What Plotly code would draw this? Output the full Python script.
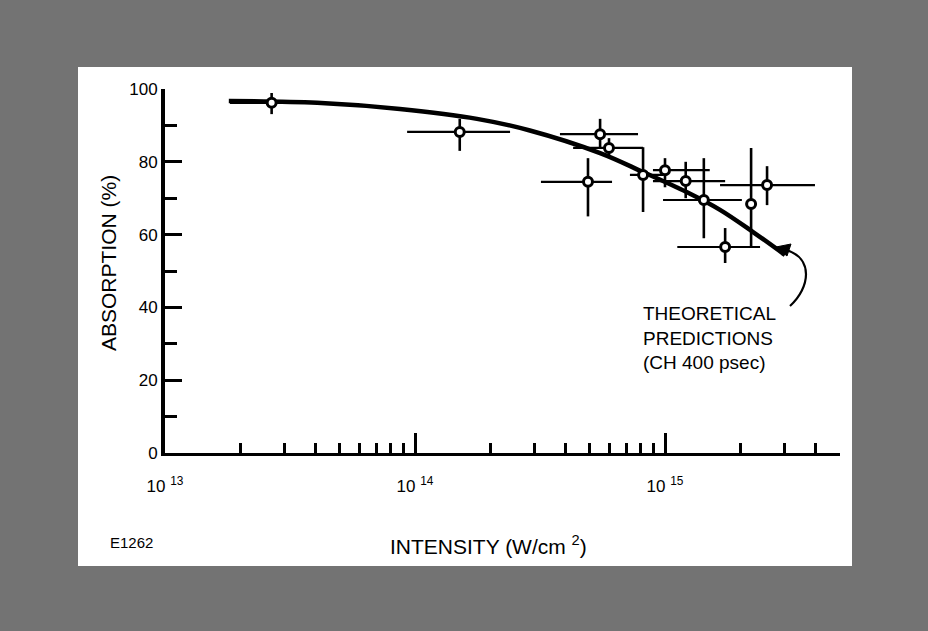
import plotly.graph_objects as go

# ---------------- data ----------------
curve_intensity = [1.80e13, 4.06e13, 8.7e13, 1.77e14, 2.88e14, 5.5e14, 8.17e14, 1.22e15, 1.66e15, 2.25e15, 3.02e15]
curve_absorption = [96.7, 96.2, 94.5, 91.8, 88.6, 82.4, 77.2, 71.7, 66.8, 60.7, 54.4]

intensity = [2.67e13, 1.51e14, 4.92e14, 5.50e14, 5.97e14, 8.17e14, 1.00e15, 1.21e15, 1.43e15, 1.74e15, 2.21e15, 2.56e15]
absorption = [96.2, 88.2, 74.5, 87.6, 83.8, 76.4, 77.7, 74.7, 69.5, 56.6, 68.4, 73.6]
abs_low = [93.1, 83.0, 65.0, 84.0, 81.5, 66.2, 73.0, 70.0, 59.0, 52.2, 56.6, 68.1]
abs_high = [98.9, 91.8, 81.0, 91.8, 86.5, 84.0, 81.0, 80.0, 81.0, 61.8, 83.8, 78.8]
int_low = [1.82e13, 9.3e13, 3.19e14, 3.80e14, 4.29e14, 7.24e14, 8.95e14, 8.95e14, 9.82e14, 1.12e15, 2.21e15, 1.66e15]
int_high = [4.05e13, 2.40e14, 6.14e14, 7.80e14, 8.17e14, 9.82e14, 1.51e15, 1.74e15, 2.03e15, 2.40e15, 2.21e15, 3.98e15]

x_major_ticks = [1e13, 1e14, 1e15]
x_major_labels = ["10 <sup>13</sup>", "10 <sup>14</sup>", "10 <sup>15</sup>"]
x_minor_ticks = [2e13, 3e13, 4e13, 5e13, 6e13, 7e13, 8e13, 9e13,
                 2e14, 3e14, 4e14, 5e14, 6e14, 7e14, 8e14, 9e14,
                 2e15, 3e15, 4e15, 5e15]
y_major_ticks = [0, 20, 40, 60, 80, 100]
y_minor_ticks = [10, 30, 50, 70, 90]

FONT = "Liberation Sans, Arial, Helvetica, sans-serif"
BORDER = "#737373"

# ---------------- geometry helpers (pixel -> paper) ----------------
W, H = 928, 631
L, R, T, B = 165, 88, 89, 178
PW, PH = W - L - R, H - T - B


def px(xp):
    return (xp - L) / PW


def py(yp):
    return (H - B - yp) / PH


fig = go.Figure()

fig.add_trace(go.Scatter(
    x=curve_intensity, y=curve_absorption, mode="lines",
    line=dict(color="black", width=4.5, shape="spline", smoothing=1.0),
    hoverinfo="skip", showlegend=False))

fig.add_trace(go.Scatter(
    x=intensity, y=absorption, mode="markers",
    marker=dict(size=9, color="white", line=dict(color="black", width=3)),
    error_x=dict(type="data", symmetric=False,
                 array=[h - v for h, v in zip(int_high, intensity)],
                 arrayminus=[v - l for l, v in zip(int_low, intensity)],
                 color="black", thickness=2.2, width=0),
    error_y=dict(type="data", symmetric=False,
                 array=[h - v for h, v in zip(abs_high, absorption)],
                 arrayminus=[v - l for l, v in zip(abs_low, absorption)],
                 color="black", thickness=2.6, width=0),
    showlegend=False))

shapes = [
    # white panel
    dict(type="rect", xref="paper", yref="paper", layer="below",
         x0=px(78), x1=px(852), y0=py(566), y1=py(67),
         fillcolor="white", line=dict(width=0)),
    # curved arrow
    dict(type="path", xref="paper", yref="paper",
         path=f"M {px(790)},{py(306)} C {px(810)},{py(288)} {px(814)},{py(258)} {px(786)},{py(250)}",
         line=dict(color="black", width=2.2)),
    dict(type="path", xref="paper", yref="paper",
         path=f"M {px(776)},{py(247)} L {px(791)},{py(244)} L {px(787)},{py(256)} Z",
         fillcolor="black", line=dict(color="black", width=1)),
]

annotations = [
    dict(text="ABSORPTION (%)", textangle=-90, xref="paper", yref="paper",
         x=px(108), y=py(263), xanchor="center", yanchor="middle", showarrow=False,
         font=dict(family=FONT, size=21, color="black")),
    dict(text="INTENSITY (W/cm <sup>2</sup>)", xref="paper", yref="paper",
         x=px(488), y=py(545), xanchor="center", yanchor="middle", showarrow=False,
         font=dict(family=FONT, size=21, color="black")),
    dict(text="E1262", xref="paper", yref="paper",
         x=px(108), y=py(542), xanchor="left", yanchor="middle", showarrow=False,
         font=dict(family=FONT, size=15, color="black")),
    dict(text="THEORETICAL<br>PREDICTIONS<br>(CH 400 psec)", xref="paper", yref="paper",
         x=px(641), y=py(338), xanchor="left", yanchor="middle", align="left",
         showarrow=False, font=dict(family=FONT, size=19, color="black")),
]

fig.update_layout(
    width=W, height=H,
    margin=dict(l=L, r=R, t=T, b=B, pad=0),
    paper_bgcolor=BORDER, plot_bgcolor="white",
    font=dict(family=FONT, size=17, color="black"),
    shapes=shapes, annotations=annotations,
    xaxis=dict(type="log", range=[13, 15.7], showgrid=False, zeroline=False,
               showline=True, linecolor="black", linewidth=3,
               ticks="inside", ticklen=20, tickwidth=3, tickcolor="black",
               tickvals=x_major_ticks, ticktext=x_major_labels,
               ticklabelstandoff=16,
               minor=dict(ticks="inside", ticklen=10, tickwidth=2.5, tickcolor="black",
                          tickvals=x_minor_ticks, showgrid=False)),
    yaxis=dict(range=[0, 100], showgrid=False, zeroline=False,
               showline=True, linecolor="black", linewidth=4,
               ticks="inside", ticklen=17, tickwidth=3, tickcolor="black",
               tickvals=y_major_ticks,
               minor=dict(ticks="inside", ticklen=12, tickwidth=3, tickcolor="black",
                          tickvals=y_minor_ticks, showgrid=False)),
)

fig.write_html(
    "out.html",
    config={"displayModeBar": False},
    post_script=("document.body.style.margin='0';"
                 "document.body.style.overflow='hidden';"
                 f"document.body.style.background='{BORDER}';"),
)
